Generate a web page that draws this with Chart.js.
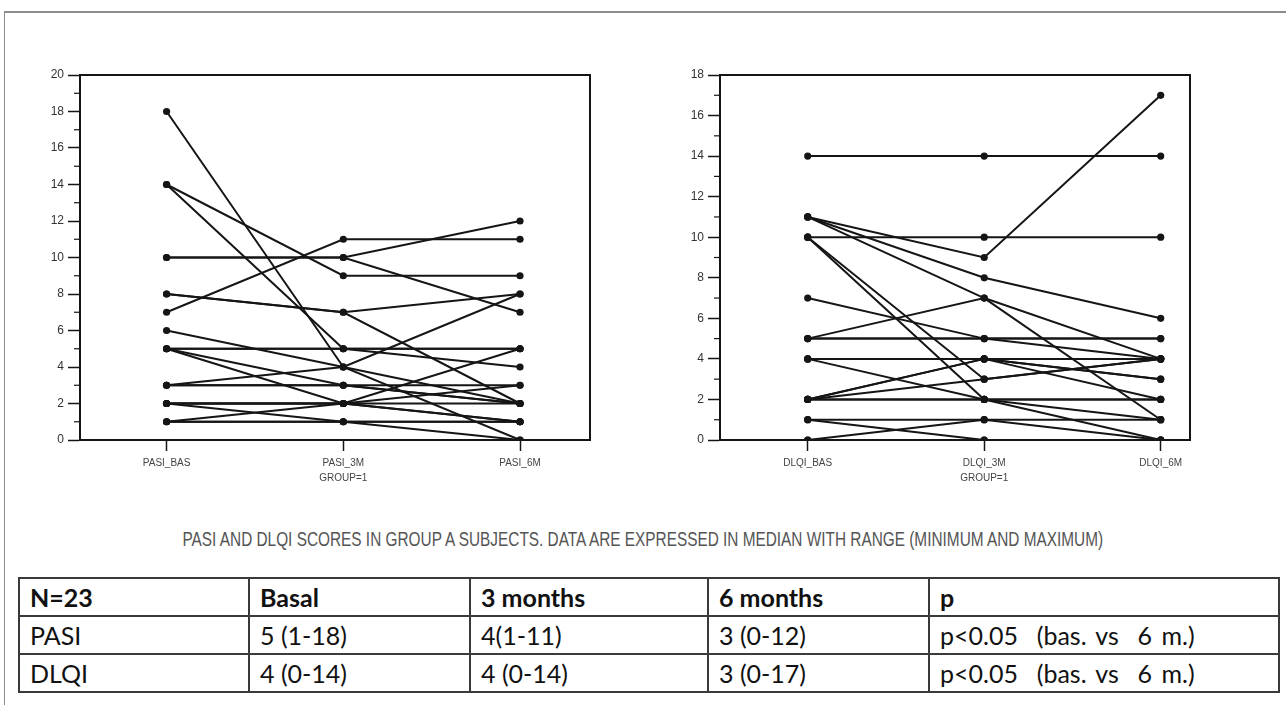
<!DOCTYPE html>
<html>
<head>
<meta charset="utf-8">
<script src="https://cdn.jsdelivr.net/npm/chart.js@4.4.0/dist/chart.umd.min.js"></script>
<style>
  body{margin:0;background:#fff;width:1286px;height:705px;overflow:hidden;position:relative;font-family:"Liberation Sans",Arial,sans-serif}
  #frame{position:absolute;left:4px;top:11px;width:1290px;height:700px;border-top:2px solid #8c8c8c;border-left:1px solid #8c8c8c}
  .box{position:absolute;top:60px;height:440px}
  #pasiBox{left:20px;width:580px}
  #dlqiBox{left:660px;width:540px}
  #caption{position:absolute;top:528px;left:0;width:1286px;text-align:center;white-space:nowrap}
  #caption span{display:inline-block;font-size:20px;color:#555;transform-origin:center}
  table{position:absolute;left:18px;top:577px;border-collapse:collapse;font-family:Lato,"Open Sans",sans-serif;font-size:25px;color:#111}
  td{border:2px solid #3a3a3a;height:36px;padding:0 0 0 10px;text-align:left;vertical-align:middle;box-sizing:border-box}
  tr{height:38px}
  tr.head td{font-weight:bold}
</style>
</head>
<body>
<div id="frame"></div>
<div class="box" id="pasiBox"><canvas id="pasiChart" width="580" height="440"></canvas></div>
<div class="box" id="dlqiBox"><canvas id="dlqiChart" width="540" height="440"></canvas></div>
<div id="caption"><span id="capText"></span></div>
<table id="tbl"></table>
<script>
// PASI, one entry per subject (23)
const pasiLabels = ['PASI_BAS', 'PASI_3M', 'PASI_6M'];
const pasiBas = [18,14,14,10,10,7,8,6,5,5,5,3,3,2,2,1,1,8,2,1,3,2,5];
const pasi3m  = [4,9,5,10,10,11,7,4,5,3,2,3,4,2,1,2,1,7,2,1,3,2,5];
const pasi6m  = [0,9,4,12,7,11,8,2,5,2,1,3,8,2,1,5,1,2,1,0,2,3,5];

// DLQI, one entry per subject (23)
const dlqiLabels = ['DLQI_BAS', 'DLQI_3M', 'DLQI_6M'];
const dlqiBas = [14,11,11,11,10,10,10,7,5,5,4,4,2,2,2,1,1,0,0,4,2,5,2];
const dlqi3m  = [14,9,8,7,10,3,2,5,7,5,4,2,4,3,2,1,0,1,0,4,2,5,4];
const dlqi6m  = [14,17,6,4,10,4,2,5,1,4,4,1,3,4,2,1,0,0,0,2,0,5,3];

const groupLabel = 'GROUP=1';
const captionText = 'PASI AND DLQI SCORES IN GROUP A SUBJECTS. DATA ARE EXPRESSED IN MEDIAN WITH RANGE (MINIMUM AND MAXIMUM)';

const tableHeader = ['N=23', 'Basal', '3 months', '6 months', 'p'];
const tablePasi = ['PASI', '5 (1-18)', '4(1-11)', '3 (0-12)', 'p<0.05  (bas. vs  6 m.)'];
const tableDlqi = ['DLQI', '4 (0-14)', '4 (0-14)', '3 (0-17)', 'p<0.05  (bas. vs  6 m.)'];
const colWidths = [230, 221, 238, 221, 350];

const ink = '#151515';

// frame on top/right + short minor ticks on y axis
const boxPlugin = {
  id: 'boxPlugin',
  afterDraw(chart){
    const {ctx, chartArea:a, scales:{y}} = chart;
    ctx.save();
    ctx.strokeStyle = ink;
    ctx.lineWidth = 2;
    ctx.beginPath();
    ctx.moveTo(a.left, a.top); ctx.lineTo(a.right, a.top); ctx.lineTo(a.right, a.bottom);
    ctx.stroke();
    ctx.lineWidth = 1.2;
    for(let v = 1; v < y.max; v += 2){
      const py = y.getPixelForValue(v);
      ctx.beginPath(); ctx.moveTo(a.left - 6, py); ctx.lineTo(a.left, py); ctx.stroke();
    }
    ctx.restore();
  }
};

function makeChart(id, labels, bas, m3, m6, yMax, xMin, xMax){
  const datasets = bas.map((b, i) => ({
    data: [{x:0,y:b},{x:1,y:m3[i]},{x:2,y:m6[i]}],
    borderColor: ink, backgroundColor: ink,
    borderWidth: 2, pointRadius: 3.6, pointBorderWidth: 0,
    pointBackgroundColor: ink, tension: 0
  }));
  return new Chart(document.getElementById(id), {
    type: 'line',
    data: { datasets },
    options: {
      animation: false, responsive: false, maintainAspectRatio: false,
      layout: { padding: { left: 10, right: 10, top: 15, bottom: 10 } },
      plugins: { legend: { display: false }, tooltip: { enabled: false } },
      scales: {
        x: {
          type: 'linear', min: xMin, max: xMax,
          afterBuildTicks: s => { s.ticks = [0,1,2].map(v => ({value: v})); },
          afterFit: s => { s.height = 50; },
          grid: { drawOnChartArea: false, tickLength: 11, tickColor: ink, tickWidth: 1.5 },
          border: { color: ink, width: 2 },
          ticks: {
            autoSkip: false, maxRotation: 0, padding: 5, color: '#444',
            font: { size: 10, family: '"Liberation Sans", Arial, sans-serif', lineHeight: 1.45 },
            callback: v => v === 1 ? [labels[1], groupLabel] : labels[v]
          }
        },
        y: {
          min: 0, max: yMax,
          afterFit: s => { s.width = 50; },
          grid: {
            drawOnChartArea: false, tickLength: 12, tickWidth: 1.5,
            tickColor: c => (c.tick && c.tick.value % 2 === 0) ? ink : 'rgba(0,0,0,0)'
          },
          border: { color: ink, width: 2 },
          ticks: {
            stepSize: 1, autoSkip: false, padding: 4, color: '#333',
            font: { size: 12, family: '"Liberation Sans", Arial, sans-serif' },
            callback: v => v % 2 === 0 ? v : ''
          }
        }
      }
    },
    plugins: [boxPlugin]
  });
}

makeChart('pasiChart', pasiLabels, pasiBas, pasi3m, pasi6m, 20, -0.49, 2.396);
makeChart('dlqiChart', dlqiLabels, dlqiBas, dlqi3m, dlqi6m, 18, -0.497, 2.166);

// caption, squeezed to the condensed width of the original
const cap = document.getElementById('capText');
cap.textContent = captionText;
cap.style.transform = 'scaleX(' + (921 / cap.offsetWidth) + ')';

// table
const tbl = document.getElementById('tbl');
[tableHeader, tablePasi, tableDlqi].forEach((row, r) => {
  const tr = document.createElement('tr');
  if(r === 0) tr.className = 'head';
  row.forEach((txt, c) => {
    const td = document.createElement('td');
    td.textContent = txt;
    td.style.width = colWidths[c] + 'px';
    td.style.whiteSpace = 'pre';
    if(c === 4 && r > 0) td.style.wordSpacing = '3px';
    tr.appendChild(td);
  });
  tbl.appendChild(tr);
});
</script>
</body>
</html>
